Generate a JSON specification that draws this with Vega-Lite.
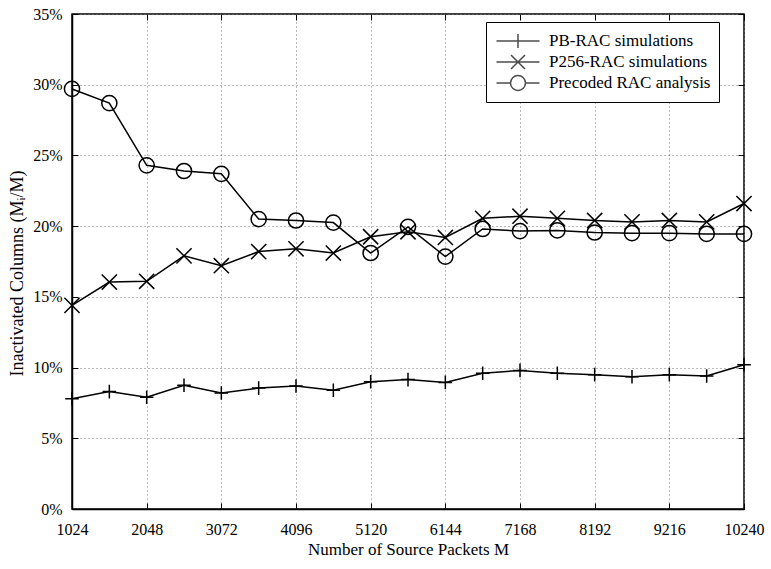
{
  "$schema": "https://vega.github.io/schema/vega-lite/v6.json",
  "width": 672,
  "height": 495,
  "autosize": {"type": "none"},
  "padding": {"left": 72, "top": 14, "right": 27, "bottom": 60},
  "background": "white",
  "config": {
    "font": "Liberation Serif, DejaVu Serif, serif",
    "view": {"stroke": "black", "strokeWidth": 1.5},
    "axis": {
      "labelFont": "Liberation Serif, DejaVu Serif, serif",
      "titleFont": "Liberation Serif, DejaVu Serif, serif",
      "labelFontSize": 16,
      "titleFontSize": 16,
      "titleFontWeight": "normal",
      "labelColor": "black",
      "titleColor": "black",
      "domainColor": "black",
      "domainWidth": 1.5,
      "tickColor": "black",
      "tickWidth": 1,
      "gridColor": "#777",
      "gridDash": [1, 3],
      "gridWidth": 1
    },
    "legend": {
      "labelFont": "Liberation Serif, DejaVu Serif, serif",
      "labelFontSize": 17,
      "labelColor": "black"
    }
  },
  "data": {
    "values": [
      {"M": 1024, "series": "PB-RAC simulations", "v": 7.8},
      {"M": 1536, "series": "PB-RAC simulations", "v": 8.3},
      {"M": 2048, "series": "PB-RAC simulations", "v": 7.9},
      {"M": 2560, "series": "PB-RAC simulations", "v": 8.75},
      {"M": 3072, "series": "PB-RAC simulations", "v": 8.2},
      {"M": 3584, "series": "PB-RAC simulations", "v": 8.55},
      {"M": 4096, "series": "PB-RAC simulations", "v": 8.7},
      {"M": 4608, "series": "PB-RAC simulations", "v": 8.4},
      {"M": 5120, "series": "PB-RAC simulations", "v": 9.0},
      {"M": 5632, "series": "PB-RAC simulations", "v": 9.15},
      {"M": 6144, "series": "PB-RAC simulations", "v": 8.95},
      {"M": 6656, "series": "PB-RAC simulations", "v": 9.6},
      {"M": 7168, "series": "PB-RAC simulations", "v": 9.8},
      {"M": 7680, "series": "PB-RAC simulations", "v": 9.6},
      {"M": 8192, "series": "PB-RAC simulations", "v": 9.5},
      {"M": 8704, "series": "PB-RAC simulations", "v": 9.35},
      {"M": 9216, "series": "PB-RAC simulations", "v": 9.5},
      {"M": 9728, "series": "PB-RAC simulations", "v": 9.4},
      {"M": 10240, "series": "PB-RAC simulations", "v": 10.2},
      {"M": 1024, "series": "P256-RAC simulations", "v": 14.4},
      {"M": 1536, "series": "P256-RAC simulations", "v": 16.05},
      {"M": 2048, "series": "P256-RAC simulations", "v": 16.1},
      {"M": 2560, "series": "P256-RAC simulations", "v": 17.9},
      {"M": 3072, "series": "P256-RAC simulations", "v": 17.2},
      {"M": 3584, "series": "P256-RAC simulations", "v": 18.2},
      {"M": 4096, "series": "P256-RAC simulations", "v": 18.4},
      {"M": 4608, "series": "P256-RAC simulations", "v": 18.1},
      {"M": 5120, "series": "P256-RAC simulations", "v": 19.25},
      {"M": 5632, "series": "P256-RAC simulations", "v": 19.6},
      {"M": 6144, "series": "P256-RAC simulations", "v": 19.2},
      {"M": 6656, "series": "P256-RAC simulations", "v": 20.55},
      {"M": 7168, "series": "P256-RAC simulations", "v": 20.7},
      {"M": 7680, "series": "P256-RAC simulations", "v": 20.55},
      {"M": 8192, "series": "P256-RAC simulations", "v": 20.4},
      {"M": 8704, "series": "P256-RAC simulations", "v": 20.3},
      {"M": 9216, "series": "P256-RAC simulations", "v": 20.4},
      {"M": 9728, "series": "P256-RAC simulations", "v": 20.3},
      {"M": 10240, "series": "P256-RAC simulations", "v": 21.6},
      {"M": 1024, "series": "Precoded RAC analysis", "v": 29.7},
      {"M": 1536, "series": "Precoded RAC analysis", "v": 28.7},
      {"M": 2048, "series": "Precoded RAC analysis", "v": 24.3},
      {"M": 2560, "series": "Precoded RAC analysis", "v": 23.9},
      {"M": 3072, "series": "Precoded RAC analysis", "v": 23.7},
      {"M": 3584, "series": "Precoded RAC analysis", "v": 20.5},
      {"M": 4096, "series": "Precoded RAC analysis", "v": 20.4},
      {"M": 4608, "series": "Precoded RAC analysis", "v": 20.25},
      {"M": 5120, "series": "Precoded RAC analysis", "v": 18.1},
      {"M": 5632, "series": "Precoded RAC analysis", "v": 19.95},
      {"M": 6144, "series": "Precoded RAC analysis", "v": 17.85},
      {"M": 6656, "series": "Precoded RAC analysis", "v": 19.8},
      {"M": 7168, "series": "Precoded RAC analysis", "v": 19.65},
      {"M": 7680, "series": "Precoded RAC analysis", "v": 19.7},
      {"M": 8192, "series": "Precoded RAC analysis", "v": 19.55},
      {"M": 8704, "series": "Precoded RAC analysis", "v": 19.5},
      {"M": 9216, "series": "Precoded RAC analysis", "v": 19.5},
      {"M": 9728, "series": "Precoded RAC analysis", "v": 19.45},
      {"M": 10240, "series": "Precoded RAC analysis", "v": 19.45}
    ]
  },
  "layer": [
    {
      "mark": {"type": "line", "color": "black", "strokeWidth": 1.5},
      "encoding": {
        "x": {
          "field": "M", "type": "quantitative",
          "scale": {"domain": [1024, 10240], "nice": false, "zero": false},
          "axis": {
            "orient": "bottom",
            "values": [1024, 2048, 3072, 4096, 5120, 6144, 7168, 8192, 9216, 10240],
            "format": "d",
            "grid": true, "tickSize": -6, "labelPadding": 18,
            "labelFlush": false, "labelOverlap": false,
            "title": "Number of Source Packets M", "titlePadding": 4, "titleFontSize": 17
          }
        },
        "y": {
          "field": "v", "type": "quantitative",
          "scale": {"domain": [0, 35], "nice": false},
          "axis": {
            "orient": "left",
            "values": [0, 5, 10, 15, 20, 25, 30, 35],
            "labelExpr": "datum.value + '%'",
            "grid": true, "tickSize": -6, "labelPadding": 16,
            "labelFlush": false, "labelOverlap": false,
            "title": "Inactivated Columns (Mᵢ/M)", "titlePadding": 6,
            "titleFontSize": 18, "titleY": 259
          }
        },
        "detail": {"field": "series"}
      }
    },
    {
      "mark": {"type": "point", "filled": false, "color": "black", "strokeWidth": 1.5, "size": 256, "opacity": 1},
      "encoding": {
        "x": {
          "field": "M", "type": "quantitative",
          "axis": {
            "orient": "top", "labels": false, "title": null, "grid": false, "domain": false,
            "values": [1024, 2048, 3072, 4096, 5120, 6144, 7168, 8192, 9216, 10240],
            "tickSize": -6
          }
        },
        "y": {
          "field": "v", "type": "quantitative",
          "axis": {
            "orient": "right", "labels": false, "title": null, "grid": false, "domain": false,
            "values": [0, 5, 10, 15, 20, 25, 30, 35],
            "tickSize": -6
          }
        },
        "shape": {
          "field": "series", "type": "nominal",
          "scale": {
            "domain": ["PB-RAC simulations", "P256-RAC simulations", "Precoded RAC analysis"],
            "range": [
              "M-0.85,0L0.85,0M0,-0.85L0,0.85",
              "M-0.95,-0.95L0.95,0.95M-0.95,0.95L0.95,-0.95",
              "M0.95,0A0.95,0.95 0 1,1 -0.95,0A0.95,0.95 0 1,1 0.95,0Z"
            ]
          },
          "legend": null
        }
      }
    },
    {
      "transform": [{"filter": "datum.M < 0"}],
      "mark": {"type": "point", "filled": false, "color": "black", "strokeWidth": 1.5},
      "encoding": {
        "x": {"field": "M", "type": "quantitative", "axis": null},
        "y": {"field": "v", "type": "quantitative", "axis": null},
        "shape": {
          "field": "series", "type": "nominal",
          "scale": {
            "domain": ["PB-RAC simulations", "P256-RAC simulations", "Precoded RAC analysis"],
            "range": [
              "M-2.15,0L2.15,0M0,-0.7L0,0.7",
              "M-2.15,0L2.15,0M-0.7,-0.7L0.7,0.7M-0.7,0.7L0.7,-0.7",
              "M-2.15,0L-0.75,0M0.75,0L2.15,0M0.75,0A0.75,0.75 0 1,1 -0.75,0A0.75,0.75 0 1,1 0.75,0Z"
            ]
          },
          "legend": {
            "title": null,
            "orient": "none",
            "legendX": 414,
            "legendY": 8,
            "symbolSize": 400,
            "symbolOffset": 13,
            "symbolStrokeColor": "black",
            "symbolFillColor": "transparent",
            "symbolStrokeWidth": 1.5,
            "strokeColor": "black",
            "fillColor": "white",
            "padding": 8,
            "rowPadding": 0,
            "labelOffset": 20,
            "labelLimit": 300
          }
        }
      }
    }
  ],
  "resolve": {
    "axis": {"x": "independent", "y": "independent"},
    "scale": {"shape": "independent"}
  }
}
